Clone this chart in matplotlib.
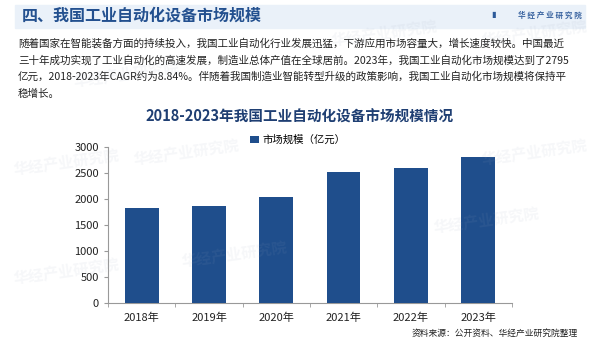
import matplotlib.pyplot as plt
from matplotlib.patches import Rectangle

plt.rcParams['font.family'] = ['Noto Sans CJK SC', 'DejaVu Sans']

years = ['2018年', '2019年', '2020年', '2021年', '2022年', '2023年']
market_size = [1815, 1860, 2040, 2520, 2600, 2795]
yticks = [0, 500, 1000, 1500, 2000, 2500, 3000]

section_title = '四、我国工业自动化设备市场规模'
logo_text = '华 经 产 业 研 究 院'
body_lines = [
    '随着国家在智能装备方面的持续投入，我国工业自动化行业发展迅猛，下游应用市场容量大，增长速度较快。中国最近',
    '三十年成功实现了工业自动化的高速发展，制造业总体产值在全球居前。2023年，我国工业自动化市场规模达到了2795',
    '亿元，2018-2023年CAGR约为8.84%。伴随着我国制造业智能转型升级的政策影响，我国工业自动化市场规模将保持平',
    '稳增长。',
]
chart_title = '2018-2023年我国工业自动化设备市场规模情况'
legend_label = '市场规模（亿元）'
source = '资料来源：公开资料、华经产业研究院整理'

bar_color = '#1f4e8c'
dark_blue = '#1f3f73'

fig = plt.figure(figsize=(6, 3.4), dpi=100)

# header band
fig.patches.append(Rectangle((15 / 600, 1 - 28 / 340), 570 / 600, 23 / 340,
                             transform=fig.transFigure, color='#eaf1f9', zorder=0))
fig.text(22 / 600, 1 - 16 / 340, section_title, fontsize=11.5, fontweight='bold',
         color='#23508f', va='center')
fig.text(582 / 600, 1 - 15 / 340, logo_text, fontsize=5.5, fontweight='bold',
         color='#3a64a0', va='center', ha='right')
fig.text(496 / 600, 1 - 15 / 340, '▮', fontsize=6, color='#2d5a9a', va='center', ha='right')

# paragraph
for i, line in enumerate(body_lines):
    fig.text(18 / 600, 1 - (43 + i * 17) / 340, line, fontsize=7.6, color='#222222', va='center')

# faint watermarks
for (x, y) in [(0.02, 0.52), (0.22, 0.55), (0.72, 0.35), (0.8, 0.9), (0.02, 0.2),
               (0.3, 0.25), (0.8, 0.55), (0.55, 0.9), (0.12, 0.78)]:
    fig.text(x, y, '华经产业研究院', fontsize=11, color='#9aa8bc', alpha=0.09,
             rotation=8, fontweight='bold', va='center')

fig.text(300 / 600, 1 - 117 / 340, chart_title, fontsize=10.5, fontweight='bold',
         color=dark_blue, ha='center', va='center')

ax = fig.add_axes([108 / 600, 1 - 302.7 / 340, 404 / 600, 156 / 340])
ax.patch.set_alpha(0)
x = range(len(years))
ax.bar(x, market_size, width=0.5, color=bar_color, label=legend_label, zorder=3)
ax.set_ylim(0, 3000)
ax.set_xlim(-0.5, len(years) - 0.5)
ax.set_yticks(yticks)
ax.set_xticks(list(x))
ax.set_xticklabels(years)
ax.set_xticks([i + 0.5 for i in range(-1, len(years))], minor=True)
ax.tick_params(axis='x', which='major', length=0, labelsize=8, pad=7, colors='#222222')
ax.tick_params(axis='x', which='minor', length=3, color='#999999')
ax.tick_params(axis='y', length=3, color='#999999', labelsize=8, labelcolor='#222222')
for s in ['top', 'right']:
    ax.spines[s].set_visible(False)
for s in ['left', 'bottom']:
    ax.spines[s].set_color('#999999')
    ax.spines[s].set_linewidth(0.8)

ax.legend(loc='center', bbox_to_anchor=(298 / 600, 1 - 140 / 340),
          bbox_transform=fig.transFigure, frameon=False, fontsize=7.5,
          handlelength=0.8, handleheight=0.8, handletextpad=0.4)

fig.text(578 / 600, 1 - 333 / 340, source, fontsize=6.3, color='#222222',
         ha='right', va='center')

fig.savefig('out.png', dpi=100)
